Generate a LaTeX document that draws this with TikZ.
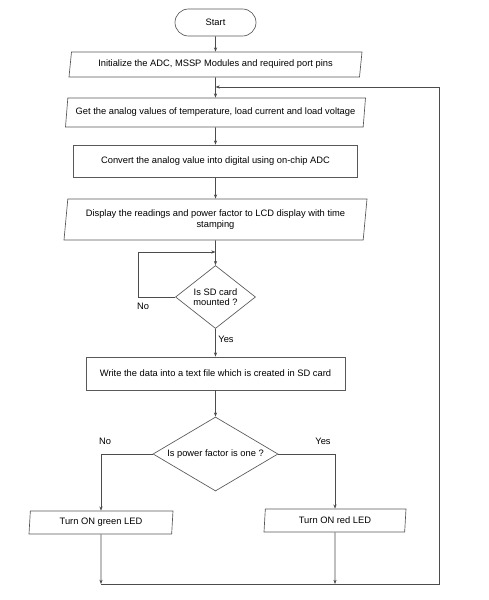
\documentclass[tikz,border=0pt]{standalone}
\usepackage{fontspec}
\setmainfont{Liberation Sans}
\usetikzlibrary{shapes.geometric,arrows.meta}
\newlength\px
\setlength\px{0.75pt}
\begin{document}
\begin{tikzpicture}[x=0.75pt,y=-0.75pt,
  every node/.style={font=\fontsize{7}{8.2}\selectfont, text=black},
  boxline/.style={draw=black!65, line width=0.5pt},
  term/.style={boxline, rectangle, rounded corners=13.5\px, minimum width=81\px, minimum height=27\px, inner sep=0pt},
  proc/.style={boxline, rectangle, inner sep=0pt},
  io/.style={boxline, trapezium, trapezium stretches body, inner sep=0pt},
  decis/.style={boxline, diamond, inner sep=0pt, align=center},
  conn/.style={draw=black!70, line width=0.5pt},
  arr/.style={conn, -{Stealth[length=3.2pt,width=2.4pt]}},
  lbl/.style={inner sep=0pt}
]
\fill[white] (0,0) rectangle (489,600);
\useasboundingbox (0,0) rectangle (489,600);

\node[term] (start) at (215.5,22.5) {Start};
\node[io, trapezium left angle=74, trapezium right angle=106, minimum width=293\px, minimum height=25\px] (init) at (215.5,64.5) {Initialize the ADC, MSSP Modules and required port pins};
\node[io, trapezium left angle=75, trapezium right angle=105, minimum width=300\px, minimum height=29\px] (get) at (215.5,112.5) {Get the analog values of temperature, load current and load voltage};
\node[proc, minimum width=284\px, minimum height=32\px] (conv) at (215.5,161) {Convert the analog value into digital using on-chip ADC};
\node[io, trapezium left angle=79, trapezium right angle=101, minimum width=303\px, minimum height=41\px, align=center] (disp) at (215.5,219.5) {Display the readings and power factor to LCD display with time\\stamping};
\node[decis, aspect=1.27, minimum width=80\px, minimum height=63\px, font=\fontsize{7}{7.8}\selectfont] (sd) at (215.5,297) {Is SD card\\mounted ?};
\node[proc, minimum width=259\px, minimum height=33\px] (write) at (215.5,373.5) {Write the data into a text file which is created in SD card};
\node[decis, aspect=1.69, minimum width=125\px, minimum height=74\px] (pf) at (215.5,454) {Is power factor is one ?};
\node[io, trapezium left angle=81, trapezium right angle=99, minimum width=144\px, minimum height=23\px] (green) at (101,522.5) {Turn ON green LED};
\node[io, trapezium left angle=79, trapezium right angle=101, minimum width=142\px, minimum height=23\px] (red) at (335,520.5) {Turn ON red LED};

\coordinate (j0) at (215.5,87);
\coordinate (j1) at (215.5,252);
\coordinate (l1) at (138,297);
\coordinate (l2) at (138,252);
\coordinate (g0) at (101,584);
\coordinate (r0) at (335,584);
\coordinate (c1) at (439,584);
\coordinate (c2) at (439,87);

\draw[arr] (start) -- (init);
\draw[arr] (init) -- (get);
\draw[arr] (get) -- (conv);
\draw[arr] (conv) -- (disp);
\draw[arr] (disp) -- (sd);
\draw[arr] (sd.west) -- (l1) -- (l2) -- (j1);
\draw[arr] (sd) -- (write);
\draw[arr] (write) -- (pf);
\draw[arr] (pf.west) -| (green.north);
\draw[arr] (pf.east) -| (red.north);
\draw[arr] (green.south) -- (g0);
\draw[arr] (red.south) -- (r0);
\draw[arr] (g0) -- (c1) -- (c2) -- (j0);

\node[lbl] (no1) at (143,306) {No};
\node[lbl] (yes1) at (226,339) {Yes};
\node[lbl] (no2) at (105,441) {No};
\node[lbl] (yes2) at (323,441) {Yes};
\end{tikzpicture}
\end{document}
